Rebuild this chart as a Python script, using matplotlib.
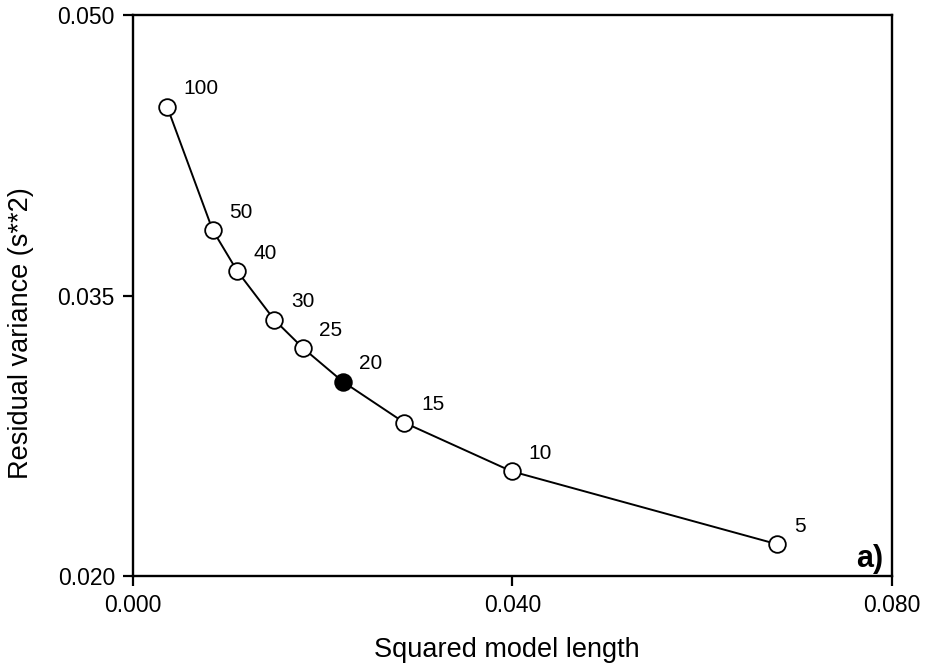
import matplotlib.pyplot as plt
import numpy as np

plt.rcParams['font.family'] = ['Liberation Sans', 'DejaVu Sans']

# model lengths (labels) and values
labels = ['100', '50', '40', '30', '25', '20', '15', '10', '5']
model_len = [0.0036, 0.0084, 0.0110, 0.0149, 0.0179, 0.0221, 0.0286, 0.0399, 0.0679]
resid_var = [0.0451, 0.0385, 0.0363, 0.0337, 0.0322, 0.0304, 0.0282, 0.0256, 0.0217]
chosen = '20'

fig = plt.figure(figsize=(9.35, 6.7), dpi=100)
ax = fig.add_axes([0.1422, 0.1403, 0.8118, 0.8373])

ax.plot(model_len, resid_var, color='black', lw=1.4, zorder=1)
for lab, x, y in zip(labels, model_len, resid_var):
    face = 'black' if lab == chosen else 'white'
    ax.plot(x, y, 'o', ms=12, mfc=face, mec='black', mew=1.3, zorder=2)
    ax.annotate(lab, (x, y), xytext=(12, 6), textcoords='offset points',
                ha='left', va='bottom', fontsize=15)

ax.text(0.989, 0.004, 'a)', transform=ax.transAxes, ha='right', va='bottom',
        fontsize=22, fontweight='bold')

ax.set_xlim(0, 0.08)
ax.set_ylim(0.02, 0.05)
ax.set_xticks([0.0, 0.04, 0.08])
ax.set_xticklabels(['0.000', '0.040', '0.080'])
ax.set_yticks([0.02, 0.035, 0.05])
ax.set_yticklabels(['0.020', '0.035', '0.050'])
ax.tick_params(direction='out', length=7, width=1.6, labelsize=16.5, pad=6)
for s in ax.spines.values():
    s.set_linewidth(1.7)

ax.set_xlabel('Squared model length', fontsize=19.5)
ax.set_ylabel('Residual variance (s**2)', fontsize=19.5)
ax.xaxis.set_label_coords(0.492, -0.108)
ax.yaxis.set_label_coords(-0.13, 0.433)

fig.savefig('out.png', dpi=100)
